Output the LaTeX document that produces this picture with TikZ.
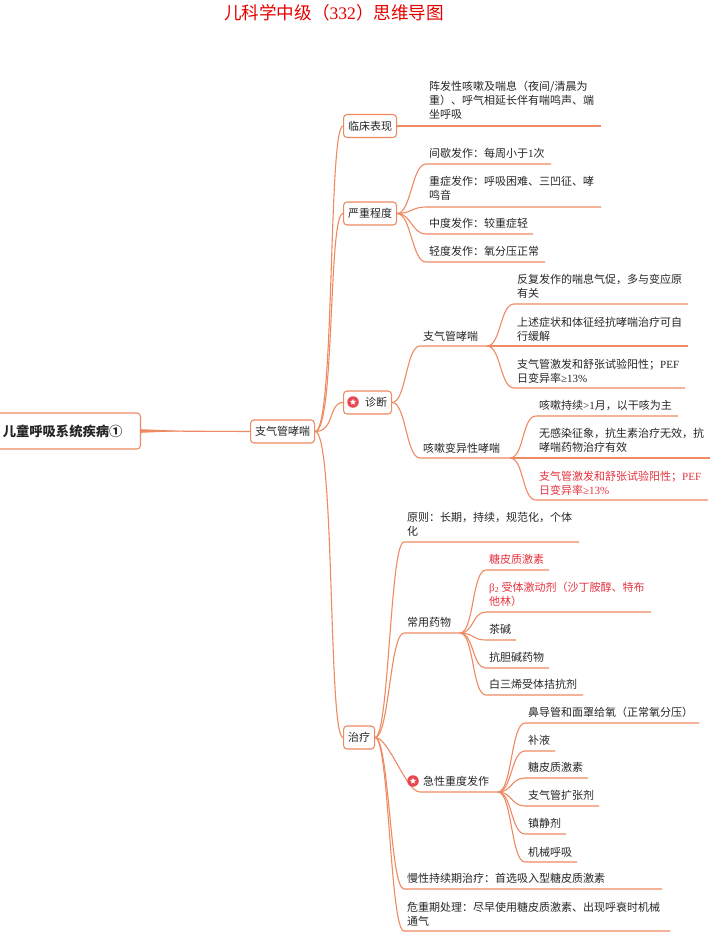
\documentclass[tikz,border=0pt]{standalone}
\usepackage{fontspec}
\setmainfont{Noto Sans CJK SC}
\newfontfamily\lat{Liberation Serif}
\usetikzlibrary{shapes.geometric}
\definecolor{linkc}{HTML}{EE8A62}
\definecolor{redc}{HTML}{E5323E}
\definecolor{textc}{HTML}{262626}
\tikzset{
link/.style={draw=linkc,line width=1.1pt},
topic/.style={draw=linkc,fill=white,rounded corners=3.5pt,line width=1.1pt,anchor=west,minimum height=23pt,inner xsep=4.5pt,inner ysep=0pt,text=textc,font=\fontsize{11}{14}\selectfont},
leaf/.style={anchor=west,align=left,inner sep=0pt,text=textc,font=\fontsize{11}{14}\selectfont},
redleaf/.style={leaf,text=redc},
iconback/.style={circle,fill=redc!90!white,inner sep=0pt,minimum size=11.5pt},
iconstar/.style={star,star points=5,star point ratio=2.2,fill=white,inner sep=0pt,minimum size=6.5pt}
}
% name, parent, text x, text y, line y, line end, text
\newcommand\leaf[8][leaf]{
\node[#1] (#2) at (#4,#5) {#8};
\coordinate (#2s) at (#4-3,#6);
\coordinate (#2e) at (#7,#6);
\draw[link] (#3) .. controls +(14,0) and (#4-17,#6) .. (#2s) -- (#2e);
}
\begin{document}
\begin{tikzpicture}[x=1pt,y=-1pt]
\useasboundingbox (0,0) rectangle (710,937);
\node[text=red!90!black,font=\fontsize{17.6}{18}\selectfont] (title) at (334,13) {儿科学中级（{\lat 332}）思维导图};
% root and first level
\node[topic,anchor=east,minimum height=36pt,inner xsep=18pt,font=\fontsize{13.3}{16}\selectfont\bfseries] (root) at (141,431) {儿童呼吸系统疾病①};
\node[topic] (zqg) at (250,431.5) {支气管哮喘};
\node[topic] (lcbx) at (343,126) {临床表现};
\node[topic] (yzcd) at (343,213.5) {严重程度};
\node[topic] (zd) at (343,402.5) {\hspace*{17pt}诊断};
\node[topic] (zl) at (343,737.5) {治疗};
\coordinate (taper) at (185,431);
\fill[linkc] ([yshift=-1.8pt]root.east) -- (taper) -- ([yshift=1.8pt]root.east) -- cycle;
\draw[link] (root.east) -- (zqg.west);
\foreach\n in{lcbx,yzcd,zd,zl}
\draw[link] (zqg.east) .. controls +(20,0) and ([xshift=-15pt]\n.west) .. (\n.west);
\node[iconback] (zdback) at (353,402) {};
\node[iconstar] (zdstar) at (353,402) {};
% clinical signs
\leaf{lcbxa}{lcbx.east}{429}{100}{126}{601}{阵发性咳嗽及喘息（夜间/清晨为\\重）、呼气相延长伴有喘鸣声、端\\坐呼吸}
% severity
\leaf{yza}{yzcd.east}{429}{153}{164}{551}{间歇发作：每周小于{\lat 1}次}
\leaf{yzb}{yzcd.east}{429}{188}{207}{601}{重症发作：呼吸困难、三凹征、哮\\鸣音}
\leaf{yzc}{yzcd.east}{429}{223}{234}{533}{中度发作：较重症轻}
\leaf{yzd}{yzcd.east}{429}{251}{262}{545}{轻度发作：氧分压正常}
% diagnosis
\leaf{zda}{zd.east}{423}{336}{346}{487}{支气管哮喘}
\leaf{zdb}{zd.east}{423}{448}{458}{510}{咳嗽变异性哮喘}
\leaf{zdaa}{zdae}{517}{286}{304}{688}{反复发作的喘息气促，多与变应原\\有关}
\leaf{zdab}{zdae}{517}{329}{346}{688}{上述症状和体征经抗哮喘治疗可自\\行缓解}
\leaf{zdac}{zdae}{517}{371}{388}{685}{支气管激发和舒张试验阳性；{\lat PEF}\\日变异率{\lat ≥13\%}}
\leaf{zdba}{zdbe}{539}{405}{416}{678}{咳嗽持续{\lat >1}月，以干咳为主}
\leaf{zdbb}{zdbe}{539}{440}{458}{710}{无感染征象，抗生素治疗无效，抗\\哮喘药物治疗有效}
\leaf[redleaf]{zdbc}{zdbe}{539}{483}{500}{708}{支气管激发和舒张试验阳性；{\lat PEF}\\日变异率{\lat ≥13\%}}
% treatment
\leaf{zla}{zl.east}{407}{524}{542}{579}{原则：长期，持续，规范化，个体\\化}
\leaf{zlb}{zl.east}{407}{622}{633}{460}{常用药物}
\leaf{zlc}{zl.east}{423}{781}{792}{498}{急性重度发作}
\leaf{zld}{zl.east}{407}{878}{889}{662}{慢性持续期治疗：首选吸入型糖皮质激素}
\leaf{zle}{zl.east}{407}{914}{931}{670}{危重期处理：尽早使用糖皮质激素、出现呼衰时机械\\通气}
\node[iconback] (zlback) at (413,781) {};
\node[iconstar] (zlstar) at (413,781) {};
\leaf[redleaf]{zlba}{zlbe}{489}{559}{570}{549}{糖皮质激素}
\leaf[redleaf]{zlbb}{zlbe}{489}{594}{612}{651}{{\lat β\textsubscript{2}} 受体激动剂（沙丁胺醇、特布\\他林）}
\leaf{zlbc}{zlbe}{489}{629}{640}{516}{茶碱}
\leaf{zlbd}{zlbe}{489}{657}{668}{549}{抗胆碱药物}
\leaf{zlbf}{zlbe}{489}{684}{695}{583}{白三烯受体拮抗剂}
\leaf{zlca}{zlce}{528}{712}{723}{699}{鼻导管和面罩给氧（正常氧分压）}
\leaf{zlcb}{zlce}{528}{740}{751}{555}{补液}
\leaf{zlcc}{zlce}{528}{767}{778}{588}{糖皮质激素}
\leaf{zlcd}{zlce}{528}{795}{806}{599}{支气管扩张剂}
\leaf{zlcf}{zlce}{528}{823}{834}{566}{镇静剂}
\leaf{zlcg}{zlce}{528}{852}{862}{577}{机械呼吸}
\end{tikzpicture}
\end{document}
